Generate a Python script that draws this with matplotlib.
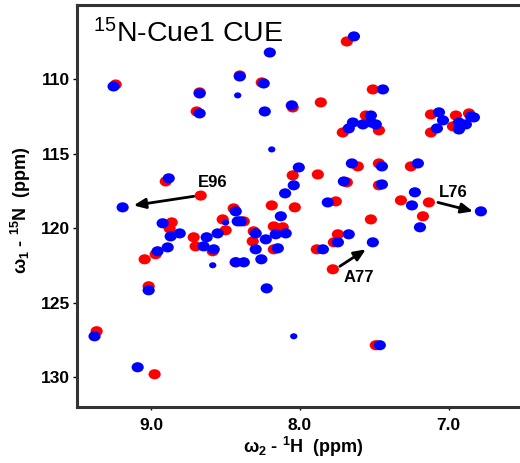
import matplotlib
matplotlib.use('Agg')
import matplotlib.pyplot as plt
from matplotlib.patches import Ellipse

plt.rcParams['font.family'] = ['Liberation Sans', 'DejaVu Sans']

# peak list, free protein (red)
red_h = [9.240, 8.675, 8.695, 8.405, 8.257, 8.049, 7.860, 7.685, 7.510,
         7.557, 7.712, 7.469,
         7.119, 7.119, 6.951, 6.863, 6.971,
         8.903, 8.049, 7.880, 7.611, 7.469, 7.254, 7.685, 7.469,
         8.668, 7.759, 7.321, 7.133, 7.173, 7.523, 8.190, 8.035,
         8.446, 8.520, 8.500, 8.378, 8.863, 8.877, 8.715, 8.702,
         8.587, 8.971, 9.045, 8.432, 8.311, 8.318, 8.176, 8.116,
         8.176, 7.745, 7.772, 7.887, 7.779, 9.018, 9.368, 8.978, 7.490]
red_n = [110.34, 110.87, 112.15, 109.73, 110.20, 111.88, 111.54, 107.45, 110.67,
         112.42, 113.56, 113.42,
         112.35, 113.56, 112.42, 112.28, 113.15,
         116.85, 116.44, 116.38, 115.84, 115.64, 115.84, 116.91, 117.11,
         117.80, 118.19, 118.12, 118.26, 119.19, 119.40, 118.46, 118.59,
         118.66, 119.40, 120.13, 119.53, 119.60, 120.00, 120.60, 121.21,
         121.54, 121.74, 122.08, 122.28, 120.20, 120.87, 119.87, 119.93,
         121.41, 120.40, 120.94, 121.41, 122.75, 123.89, 126.91, 129.80, 127.85]

# peak list, complex (blue)
blue_h = [9.254, 8.675, 8.675, 8.405, 8.244, 8.237, 8.055, 8.203, 7.637, 7.442,
          7.523, 7.644, 7.672, 7.577, 7.490, 7.523,
          7.065, 7.038, 7.079, 6.850, 6.931, 6.931, 6.884, 6.830,
          8.883, 8.008, 7.651, 7.449, 7.207, 7.705, 7.449, 8.042, 8.100,
          7.813, 7.227, 7.247, 6.783, 7.193, 9.193, 8.129, 8.432, 8.419, 8.399,
          8.924, 8.870, 8.809, 8.958, 8.890, 8.628, 8.554, 8.648, 8.580,
          8.432, 8.378, 8.298, 8.298, 8.260, 8.163, 8.096, 8.230, 8.149,
          7.672, 7.745, 7.846, 7.510, 8.224, 7.463, 9.018, 9.382, 9.092]
blue_n = [110.47, 110.94, 112.28, 109.80, 110.27, 112.15, 111.74, 108.19, 107.11, 110.67,
          112.42, 112.89, 113.29, 113.02, 113.02, 112.89,
          112.21, 112.75, 113.29, 112.48, 112.89, 113.36, 113.02, 112.55,
          116.64, 115.91, 115.64, 115.84, 115.64, 116.85, 117.05, 117.11, 117.65,
          118.26, 117.58, 118.46, 118.86, 119.93, 118.59, 119.19, 118.86, 119.53, 119.53,
          119.66, 120.54, 120.34, 121.54, 121.28, 120.60, 120.34, 121.21, 121.41,
          122.28, 122.28, 120.34, 121.41, 122.08, 120.40, 120.34, 120.74, 121.34,
          120.40, 120.94, 121.41, 120.94, 124.03, 127.85, 124.16, 127.25, 129.33]

# weak peaks of the complex
blue_weak_h = [8.419, 8.190, 8.587, 8.042, 8.500]
blue_weak_n = [111.07, 114.70, 122.48, 127.25, 119.60]

labels = ['E96', 'L76', 'A77']
label_h = [8.586, 6.971, 7.604]
label_n = [116.91, 117.58, 123.29]
tail_h = [8.715, 7.072, 7.732]
tail_n = [117.85, 118.26, 122.55]
head_h = [9.119, 6.836, 7.557]
head_n = [118.46, 118.86, 121.41]

fig = plt.figure(figsize=(5.2, 4.63), dpi=100)
ax = fig.add_axes([77/520, 1-407/463, 443/520, 402/463])

w, h = 0.082, 0.68
for x, y in zip(red_h, red_n):
    ax.add_patch(Ellipse((x, y), w, h, color='#ff0000', lw=0))
for x, y in zip(blue_h, blue_n):
    ax.add_patch(Ellipse((x, y), w, h, color='#0000ff', lw=0))
for x, y in zip(blue_weak_h, blue_weak_n):
    ax.add_patch(Ellipse((x, y), w*0.6, h*0.6, color='#0000ff', lw=0))

for i in range(len(labels)):
    ax.text(label_h[i], label_n[i], labels[i], fontsize=12, fontweight='bold',
            ha='center', va='center')
    ax.annotate('', xy=(head_h[i], head_n[i]), xytext=(tail_h[i], tail_n[i]),
                arrowprops=dict(arrowstyle='-|>,head_length=0.7,head_width=0.3',
                                lw=2, color='black', shrinkA=0, shrinkB=0))

# title inside the frame
ax.text(0.036, 0.908, r'$\mathregular{^{15}}$N-Cue1 CUE', transform=ax.transAxes,
        fontsize=20.5, ha='left', va='baseline')

ax.set_xlim(9.5, 6.52)
ax.set_ylim(132, 105)
ax.set_xticks([9.0, 8.0, 7.0])
ax.set_xticklabels(['9.0', '8.0', '7.0'])
ax.set_yticks([110, 115, 120, 125, 130])

for s in ['left', 'bottom', 'top']:
    ax.spines[s].set_linewidth(2.2)
    ax.spines[s].set_color('#333333')
ax.spines['right'].set_visible(False)
ax.tick_params(axis='y', length=3, width=1, pad=2, labelsize=12.5)
ax.tick_params(axis='x', length=2, width=1, pad=6, labelsize=12.5)
for t in ax.get_xticklabels() + ax.get_yticklabels():
    t.set_fontweight('bold')

ax.set_xlabel(r'$\mathregular{ω_2}$ - $\mathregular{^1}$H  (ppm)', fontsize=13, fontweight='bold')
ax.set_ylabel(r'$\mathregular{ω_1}$ - $\mathregular{^{15}}$N  (ppm)', fontsize=13, fontweight='bold')
ax.xaxis.set_label_coords(0.51, -0.07)
ax.yaxis.set_label_coords(-0.1, 0.49)

fig.savefig('out.png', dpi=100)
